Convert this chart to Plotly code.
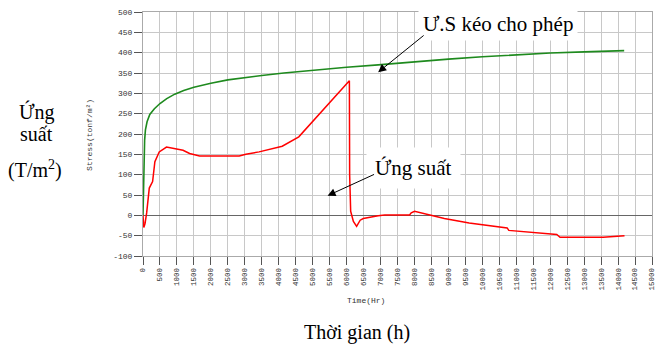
import plotly.graph_objects as go

# Allowable tensile stress (green)
t_allow = [0, 24, 48, 72, 120, 200, 336, 500, 700, 936, 1200, 1500, 2000, 2500, 3000,
           3500, 4150, 5000, 6000, 6930, 8000, 9000, 10000, 11000, 12000, 13000, 14180]
s_allow = [0, 130, 185, 210, 230, 248, 262, 275, 287, 298, 307, 315, 325, 333, 339,
           344, 350, 357, 364, 370, 378, 384, 390, 395, 399, 402, 405]

# Computed stress (red)
t_stress = [0, 24, 60, 108, 185, 283, 350, 478, 692, 1033, 1180, 1374, 1667, 2836, 3031,
            3421, 4103, 4591, 5029, 6082, 6090, 6120, 6200, 6295, 6400, 6491, 6930, 7125,
            7856, 7904, 8003, 8196, 8880, 9611, 10731, 10780, 12193, 12290, 13558, 14190]
s_stress = [0, -30, -20, 6, 67, 83, 132, 156, 168, 163, 160, 152, 146, 146, 150,
            156, 170, 193, 233, 331, 100, 10, -15, -27, -12, -8, -1, 1,
            1, 6, 10, 6, -8, -19, -31, -37, -47, -54, -54, -50]

x_ticks = list(range(0, 15001, 500))
y_ticks = list(range(-100, 501, 50))

W, H = 664, 350
L, R, T, B = 143, 656, 9, 256


def px(x):
    return (x - L) / (R - L)


def py(y):
    return (B - y) / (B - T)


fig = go.Figure()
fig.add_trace(go.Scatter(x=t_allow, y=s_allow, mode="lines",
                         line=dict(color="#1e8a1e", width=1.6), showlegend=False))
fig.add_trace(go.Scatter(x=t_stress, y=s_stress, mode="lines",
                         line=dict(color="#ff0000", width=1.5), showlegend=False))

mono = "Liberation Mono, DejaVu Sans Mono, monospace"

fig.update_layout(
    width=W, height=H,
    margin=dict(l=L, r=W - R, t=T, b=H - B),
    paper_bgcolor="white", plot_bgcolor="white",
    xaxis=dict(range=[0, 15000], tickvals=x_ticks, ticktext=[str(v) for v in x_ticks],
               tickangle=-90, ticks="outside", ticklen=8, tickcolor="#555",
               showgrid=True, gridcolor="#c8c8c8", gridwidth=1,
               zeroline=False, showline=True, linecolor="#aaa", mirror=True,
               tickfont=dict(family=mono, size=7.5, color="#333")),
    yaxis=dict(range=[-100, 500], tickvals=y_ticks, ticktext=[str(v) for v in y_ticks],
               ticks="outside", ticklen=8, tickcolor="#555",
               showgrid=True, gridcolor="#c8c8c8", gridwidth=1,
               zeroline=True, zerolinecolor="#666", zerolinewidth=1.2,
               showline=True, linecolor="#aaa", mirror=True,
               tickfont=dict(family=mono, size=8, color="#333")),
)

serif = "Times New Roman, Liberation Serif, Tinos, DejaVu Serif, serif"


def label(text, x, y, size, family=serif, color="black", **kw):
    d = dict(text=text, x=px(x), y=py(y), xref="paper", yref="paper",
             xanchor="center", yanchor="middle", showarrow=False,
             font=dict(family=family, size=size, color=color))
    d.update(kw)
    return d


ann = [
    label("Stress(tonf/m²)", 89, 133, 8, family=mono, color="#333", textangle=-90),
    label("Time(Hr)", 368, 301, 8, family=mono, color="#333"),
    label("Ứng", 36, 110, 20),
    label("suất", 36, 133, 20),
    label("(T/m<sup>2</sup>)", 34, 168, 20),
    label("Thời gian (h)", 359, 333, 20),
    label("Ư.S kéo cho phép", 501, 21, 21, bgcolor="white", borderpad=4),
    label("Ứng suất", 416, 167, 21, bgcolor="white", borderpad=8),
]
# arrows
ann.append(dict(text="", x=px(380), y=py(70), xref="paper", yref="paper",
                showarrow=True, ax=427 - 380, ay=32 - 70, axref="pixel", ayref="pixel",
                arrowhead=2, arrowsize=1.6, arrowwidth=1, arrowcolor="black", standoff=0))
ann.append(dict(text="", x=px(329), y=py(195), xref="paper", yref="paper",
                showarrow=True, ax=377 - 329, ay=173 - 195, axref="pixel", ayref="pixel",
                arrowhead=2, arrowsize=1.6, arrowwidth=1, arrowcolor="black", standoff=0))
fig.update_layout(annotations=ann)

fig.write_html("out.html")
